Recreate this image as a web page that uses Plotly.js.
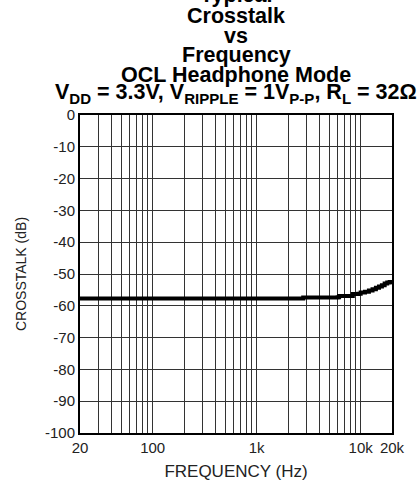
<!DOCTYPE html>
<html>
<head>
<meta charset="utf-8">
<script src="https://cdn.plot.ly/plotly-3.0.1.min.js"></script>
<style>html,body{margin:0;padding:0;background:#fff;}#chart{width:417px;height:483px;}</style>
</head>
<body>
<div id="chart"></div>
<script>
// Data
const freqHz = [20, 30, 50, 100, 200, 500, 1000, 2000, 2700, 2800, 5000, 6000, 6200, 8000, 8400, 9500, 10000, 11000, 12000, 13000, 14000, 15000, 16000, 17000, 18000, 19000, 20000];
const crosstalkDb = [-57.7, -57.7, -57.7, -57.7, -57.7, -57.7, -57.7, -57.7, -57.7, -57.4, -57.4, -57.3, -56.9, -56.9, -56.3, -56.2, -55.8, -55.6, -55.2, -54.8, -54.3, -53.9, -53.5, -53.0, -52.7, -52.5, -52.3];

const xTickVals = [20,30,40,50,60,70,80,90,100,200,300,400,500,600,700,800,900,1000,2000,3000,4000,5000,6000,7000,8000,9000,10000,20000];
const xTickText = ['20','','','','','','','','100','','','','','','','','','1k','','','','','','','','','10k','20k'];
const yTickVals = [0,-10,-20,-30,-40,-50,-60,-70,-80,-90,-100];
const yTickText = ['0','-10','-20','-30','-40','-50','-60','-70','-80','-90','-100'];

const titleLines = ['Typical', 'Crosstalk', 'vs', 'Frequency', 'OCL Headphone Mode',
  'V<sub>DD</sub> = 3.3V, V<sub>RIPPLE</sub> = 1V<sub>P-P</sub>, R<sub>L</sub> = 32Ω'];
// vertical centre (px from top of page) of each title line
const titleCenters = [-5.5, 15.5, 35.5, 54.5, 74.5, 93.5];

const font = 'Liberation Sans, Arial, sans-serif';
const plotTop = 115;

const annotations = titleLines.map((t, i) => ({
  text: '<b>' + t + '</b>',
  xref: 'paper', yref: 'paper', x: 0.5, y: 1.0,
  yshift: plotTop - titleCenters[i],
  xanchor: 'center', yanchor: 'middle', showarrow: false,
  font: {family: font, size: 21.5, color: '#000'}
}));

Plotly.newPlot('chart', [{
  x: freqHz,
  y: crosstalkDb,
  type: 'scatter',
  mode: 'lines',
  line: {color: '#000', width: 4, shape: 'hv'},
  hoverinfo: 'skip'
}], {
  width: 417, height: 483,
  margin: {l: 80, r: 25, t: plotTop, b: 50},
  paper_bgcolor: '#fff', plot_bgcolor: '#fff',
  showlegend: false,
  font: {family: font, color: '#222', size: 15},
  xaxis: {
    type: 'log',
    range: [Math.log10(20), Math.log10(20000)],
    tickmode: 'array', tickvals: xTickVals, ticktext: xTickText,
    ticks: '', showgrid: true, gridcolor: '#333', gridwidth: 1,
    showline: true, linecolor: '#000', linewidth: 2, mirror: true,
    zeroline: false,
    tickfont: {size: 15, color: '#222', family: font},
    title: {text: 'FREQUENCY (Hz)', font: {size: 17, color: '#222', family: font}, standoff: 10}
  },
  yaxis: {
    range: [-100, 0],
    tickmode: 'array', tickvals: yTickVals, ticktext: yTickText,
    ticks: '', showgrid: true, gridcolor: '#333', gridwidth: 1,
    showline: true, linecolor: '#000', linewidth: 2, mirror: true,
    zeroline: false,
    tickfont: {size: 15, color: '#222', family: font},
    title: {text: 'CROSSTALK (dB)', font: {size: 14, color: '#222', family: font}, standoff: 15}
  },
  annotations: annotations
}, {staticPlot: true});
</script>
</body>
</html>
